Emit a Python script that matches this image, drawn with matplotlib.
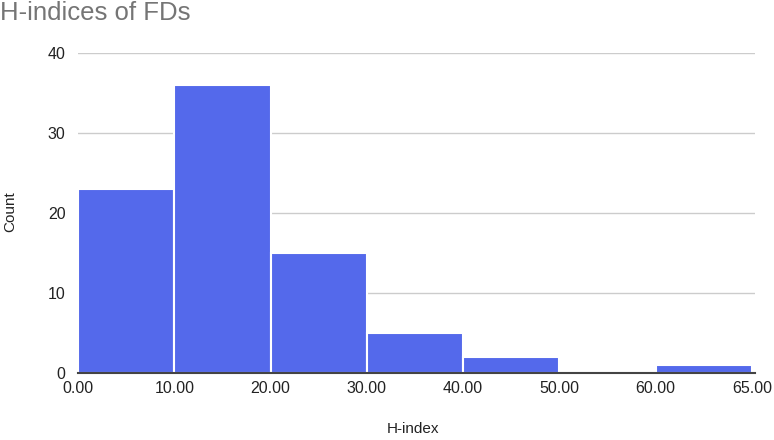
import matplotlib.pyplot as plt

plt.rcParams['font.family'] = ['Liberation Sans', 'DejaVu Sans']

bin_edges = [0, 10, 20, 30, 40, 50, 60, 65]
counts = [23, 36, 15, 5, 2, 0, 1]
edge_labels = ['0.00', '10.00', '20.00', '30.00', '40.00', '50.00', '60.00', '65.00']

fig = plt.figure(figsize=(7.74, 4.4), dpi=100)
ax = fig.add_axes([0.1008, 0.152, 0.8742, 0.727])

# google sheets draws every bucket with the same width, so use bucket index as x
pos = list(range(len(counts)))
ax.bar(pos, counts, width=1, align='edge', color='#5469EB',
       edgecolor='white', linewidth=1.5, zorder=3)

ax.set_xlim(0, len(counts) + 0.03)
ax.set_ylim(0, 40)
ax.set_xticks(range(len(bin_edges)))
ax.set_xticklabels(edge_labels)
ax.set_yticks([0, 10, 20, 30, 40])
ax.tick_params(length=0, labelsize=11.5, colors='#222222')
ax.tick_params(axis='x', pad=6)
ax.tick_params(axis='y', pad=9)
ax.grid(axis='y', color='#cccccc', linewidth=1, zorder=0)
for s in ['top', 'right', 'left']:
    ax.spines[s].set_visible(False)
ax.spines['bottom'].set_color('#444444')
ax.spines['bottom'].set_linewidth(1.5)
ax.spines['bottom'].set_zorder(4)

fig.text(413 / 774, 0.025, 'H-index', fontsize=11, color='#222222',
         ha='center', va='center')
fig.text(10 / 774, 0.52, 'Count', fontsize=11, color='#222222',
         rotation=90, ha='center', va='center')
fig.text(0.0, 0.998, 'H-indices of FDs', fontsize=18.5, color='#757575',
         ha='left', va='top')

fig.savefig('out.png', dpi=100)
